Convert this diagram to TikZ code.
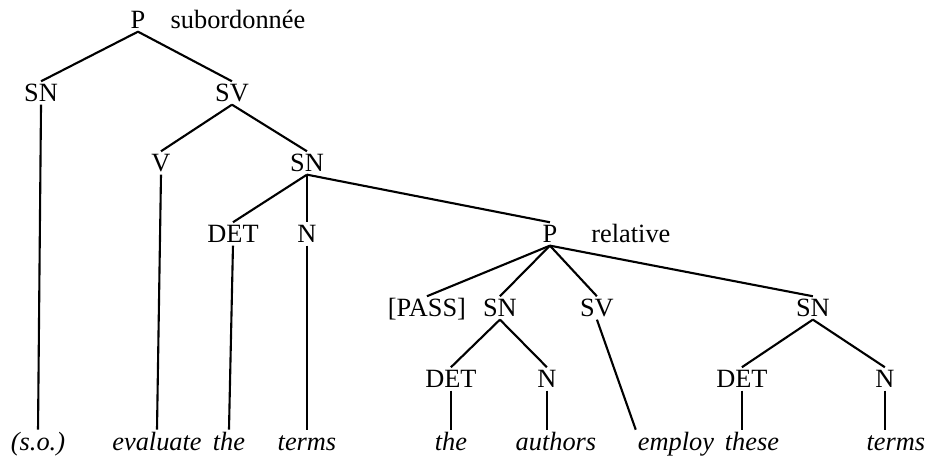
\documentclass[tikz,border=0pt]{standalone}
\usepackage{fontspec}
\setmainfont{Liberation Serif}
\usetikzlibrary{positioning}

\begin{document}
\begin{tikzpicture}[
        x=0.02cm, y=-0.02cm, on grid,
        cat_node/.style={inner sep=1.5pt, text height=9.9pt, text depth=0pt, font=\fontsize{15}{18}\selectfont},
        note_node/.style={inner sep=1pt, text height=9.9pt, text depth=0pt, font=\fontsize{15}{18}\selectfont},
        word_node/.style={inner sep=1pt, text height=10.5pt, text depth=3.3pt, font=\fontsize{15}{18}\selectfont\itshape}
        ]
            \useasboundingbox (0,0) rectangle (929,465);

            % main clause
            \node[cat_node]    (p_sub)                                                 at (138,20) {P};
            \node[note_node]   (txt_sub)  [right       = 20mm of p_sub]                {subordonnée};
            \node[cat_node]    (sn_1)     [below left  = 14.6mm and 19.4mm of p_sub]   {SN};
            \node[cat_node]    (sv_1)     [below right = 14.6mm and 18.8mm of p_sub]   {SV};
            \node[cat_node]    (v_1)      [below left  = 14mm and 14.2mm of sv_1]      {V};
            \node[cat_node]    (sn_2)     [below right = 14mm and 15mm of sv_1]        {SN};
            \node[cat_node]    (det_1)    [below left  = 14.2mm and 14.8mm of sn_2]    {DET};
            \node[cat_node]    (n_1)      [below       = 14.2mm of sn_2]               {N};
            % relative clause
            \node[cat_node]    (p_rel)    [below right = 14.2mm and 48.6mm of sn_2]    {P};
            \node[note_node]   (txt_rel)  [right       = 16.2mm of p_rel]              {relative};
            \node[cat_node]    (pass_1)   [below left  = 14.8mm and 24.6mm of p_rel]   {[PASS]};
            \node[cat_node]    (sn_3)     [below left  = 14.8mm and 10mm of p_rel]     {SN};
            \node[cat_node]    (sv_2)     [below right = 14.8mm and 9.4mm of p_rel]    {SV};
            \node[cat_node]    (sn_4)     [below right = 14.8mm and 52.6mm of p_rel]   {SN};
            \node[cat_node]    (det_2)    [below left  = 14.2mm and 9.8mm of sn_3]     {DET};
            \node[cat_node]    (n_2)      [below right = 14.2mm and 9.4mm of sn_3]     {N};
            \node[cat_node]    (det_3)    [below left  = 14.2mm and 14.2mm of sn_4]    {DET};
            \node[cat_node]    (n_3)      [below right = 14.2mm and 14.4mm of sn_4]    {N};
            % words
            \node[word_node]   (w_so)     [below left  = 70.2mm and 0.6mm of sn_1]     {(s.o.)};
            \node[word_node]   (w_eval)   [below left  = 56.2mm and 0.8mm of v_1]      {evaluate};
            \node[word_node]   (w_the1)   [below left  = 42mm and 0.8mm of det_1]      {the};
            \node[word_node]   (w_terms1) [below       = 42mm of n_1]                  {terms};
            \node[word_node]   (w_the2)   [below       = 13mm of det_2]                {the};
            \node[word_node]   (w_auth)   [below right = 13mm and 1.8mm of n_2]        {authors};
            \node[word_node]   (w_emp)    [below right = 27.2mm and 15.8mm of sv_2]    {employ};
            \node[word_node]   (w_these)  [below right = 13mm and 2mm of det_3]        {these};
            \node[word_node]   (w_terms2) [below right = 13mm and 2.2mm of n_3]        {terms};

            % Lines
            \draw[black, very thick] (p_sub.south) -- (sn_1.north);
            \draw[black, very thick] (p_sub.south) -- (sv_1.north);
            \draw[black, very thick] (sv_1.south) -- (v_1.north);
            \draw[black, very thick] (sv_1.south) -- (sn_2.north);
            \draw[black, very thick] (sn_2.south) -- (det_1.north);
            \draw[black, very thick] (sn_2.south) -- (n_1.north);
            \draw[black, very thick] (sn_2.south) -- (p_rel.north);
            \draw[black, very thick] (p_rel.south) -- (pass_1.north);
            \draw[black, very thick] (p_rel.south) -- (sn_3.north);
            \draw[black, very thick] (p_rel.south) -- (sv_2.north);
            \draw[black, very thick] (p_rel.south) -- (sn_4.north);
            \draw[black, very thick] (sn_3.south) -- (det_2.north);
            \draw[black, very thick] (sn_3.south) -- (n_2.north);
            \draw[black, very thick] (sn_4.south) -- (det_3.north);
            \draw[black, very thick] (sn_4.south) -- (n_3.north);
            % to the words
            \draw[black, very thick] (sn_1.south) -- (w_so.north);
            \draw[black, very thick] (v_1.south) -- (w_eval.north);
            \draw[black, very thick] (det_1.south) -- (w_the1.north);
            \draw[black, very thick] (n_1.south) -- (w_terms1.north);
            \draw[black, very thick] (det_2.south) -- (w_the2.north);
            \draw[black, very thick] (n_2.south) -- (n_2.south |- w_auth.north);
            \draw[black, very thick] (sv_2.south) -- (w_emp.north west);
            \draw[black, very thick] (det_3.south) -- (det_3.south |- w_these.north);
            \draw[black, very thick] (n_3.south) -- (n_3.south |- w_terms2.north);
\end{tikzpicture}
\end{document}
